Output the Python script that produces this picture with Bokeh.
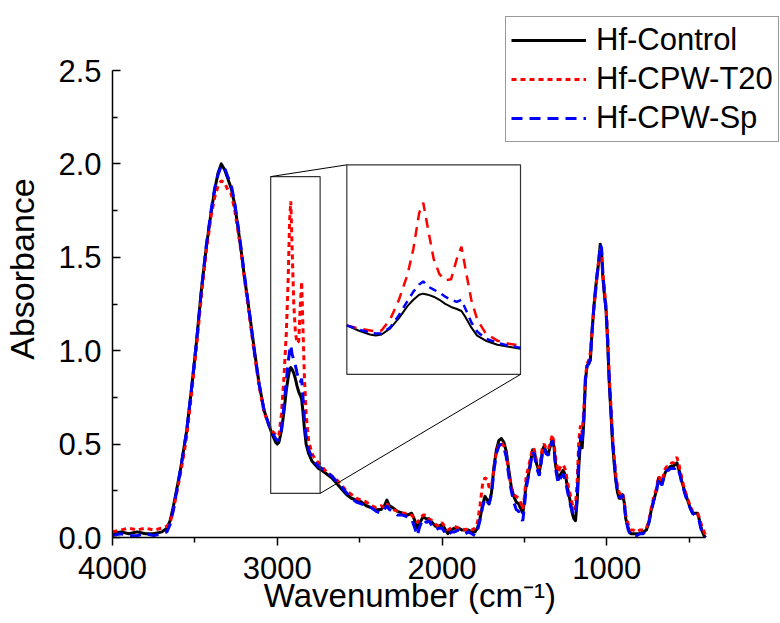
from bokeh.plotting import figure
from bokeh.models import Range1d, FixedTicker, Legend, LegendItem, NumeralTickFormatter
from bokeh.embed import file_html
from bokeh.resources import INLINE

# ---------------- data ----------------
wn = [4000, 3950, 3900, 3850, 3800, 3750, 3700, 3670, 3650, 3630, 3610, 3590, 3570, 3550,
      3520, 3490, 3460, 3430, 3400, 3380, 3360, 3340, 3320, 3300, 3280, 3260, 3240, 3220,
      3200, 3170, 3140, 3110, 3080, 3050, 3030, 3010, 3000, 2990, 2975, 2960, 2945, 2935,
      2925, 2918, 2910, 2900, 2890, 2880, 2870, 2860, 2852, 2845, 2835, 2825, 2810, 2790,
      2770, 2750, 2730, 2700, 2670, 2640, 2610, 2580, 2550, 2520, 2490, 2460, 2430, 2400,
      2370, 2350, 2335, 2320, 2300, 2270, 2240, 2210, 2185, 2165, 2150, 2135, 2115, 2095,
      2080, 2060, 2040, 2020, 2000, 1985, 1965, 1945, 1925, 1900, 1880, 1860, 1840, 1820,
      1800, 1785, 1770, 1755, 1740, 1725, 1715, 1700, 1685, 1670, 1655, 1640, 1625, 1610,
      1595, 1580, 1565, 1550, 1535, 1520, 1510, 1500, 1490, 1475, 1460, 1450, 1440, 1425,
      1410, 1400, 1390, 1380, 1370, 1355, 1340, 1330, 1320, 1310, 1295, 1280, 1265, 1250,
      1240, 1230, 1220, 1210, 1200, 1190, 1180, 1170, 1160, 1150, 1140, 1130, 1120, 1110,
      1100, 1090, 1080, 1070, 1060, 1050, 1040, 1032, 1025, 1015, 1005, 995, 985, 975,
      965, 955, 945, 935, 925, 915, 905, 895, 885, 870, 855, 840, 820, 800,
      780, 760, 745, 730, 715, 700, 685, 675, 665, 655, 645, 635, 625, 615,
      605, 595, 585, 575, 565, 555, 545, 535, 525, 510, 495, 480, 465, 450,
      440, 430, 420, 410, 400]

control = [0.02, 0.03, 0.02, 0.03, 0.02, 0.02, 0.03, 0.05, 0.09, 0.17, 0.26, 0.35, 0.46, 0.57,
           0.80, 1.05, 1.33, 1.56, 1.75, 1.86, 1.95, 2.00, 1.97, 1.92, 1.87, 1.79, 1.67, 1.54,
           1.40, 1.21, 1.01, 0.82, 0.68, 0.60, 0.55, 0.51, 0.50, 0.51, 0.57, 0.67, 0.79, 0.85,
           0.90, 0.91, 0.90, 0.88, 0.85, 0.81, 0.78, 0.76, 0.74, 0.68, 0.58, 0.50, 0.45, 0.41,
           0.39, 0.37, 0.36, 0.34, 0.32, 0.29, 0.26, 0.23, 0.21, 0.20, 0.19, 0.17, 0.16, 0.15,
           0.15, 0.17, 0.20, 0.17, 0.16, 0.14, 0.13, 0.12, 0.13, 0.09, 0.05, 0.08, 0.11, 0.10,
           0.10, 0.08, 0.06, 0.06, 0.07, 0.05, 0.02, 0.04, 0.05, 0.05, 0.04, 0.04, 0.04, 0.03,
           0.03, 0.05, 0.10, 0.17, 0.22, 0.20, 0.18, 0.24, 0.38, 0.47, 0.52, 0.53, 0.51, 0.46,
           0.36, 0.27, 0.22, 0.19, 0.18, 0.15, 0.13, 0.20, 0.28, 0.34, 0.42, 0.47, 0.46, 0.39,
           0.35, 0.40, 0.47, 0.49, 0.46, 0.45, 0.50, 0.53, 0.48, 0.38, 0.31, 0.34, 0.36, 0.33,
           0.27, 0.23, 0.18, 0.13, 0.10, 0.09, 0.20, 0.38, 0.52, 0.48, 0.62, 0.84, 0.92, 0.93,
           0.95, 1.10, 1.22, 1.32, 1.40, 1.47, 1.57, 1.53, 1.40, 1.30, 1.22, 1.04, 0.82, 0.66,
           0.50, 0.39, 0.30, 0.24, 0.21, 0.21, 0.23, 0.19, 0.10, 0.05, 0.02, 0.02, 0.02, 0.02,
           0.03, 0.04, 0.08, 0.15, 0.20, 0.25, 0.32, 0.30, 0.29, 0.32, 0.35, 0.36, 0.37, 0.38,
           0.38, 0.385, 0.39, 0.40, 0.37, 0.34, 0.30, 0.27, 0.24, 0.20, 0.16, 0.13, 0.13, 0.13,
           0.10, 0.06, 0.03, 0.01, 0.00]

t20 = [0.03, 0.04, 0.05, 0.04, 0.05, 0.04, 0.05, 0.06, 0.08, 0.15, 0.24, 0.33, 0.43, 0.54,
       0.77, 1.02, 1.30, 1.54, 1.73, 1.82, 1.88, 1.91, 1.90, 1.86, 1.84, 1.76, 1.65, 1.53,
       1.39, 1.19, 0.99, 0.81, 0.67, 0.60, 0.57, 0.55, 0.54, 0.55, 0.66, 0.85, 1.10, 1.35,
       1.70, 1.80, 1.55, 1.25, 1.10, 1.04, 1.05, 1.25, 1.37, 1.15, 0.85, 0.66, 0.52, 0.45,
       0.42, 0.40, 0.38, 0.35, 0.33, 0.31, 0.28, 0.25, 0.23, 0.21, 0.20, 0.19, 0.17, 0.16,
       0.17, 0.16, 0.18, 0.16, 0.15, 0.14, 0.13, 0.13, 0.12, 0.10, 0.08, 0.10, 0.12, 0.12,
       0.10, 0.09, 0.07, 0.06, 0.08, 0.06, 0.04, 0.05, 0.06, 0.05, 0.05, 0.04, 0.05, 0.04,
       0.05, 0.08, 0.17, 0.28, 0.32, 0.31, 0.27, 0.27, 0.37, 0.46, 0.50, 0.51, 0.49, 0.44,
       0.35, 0.27, 0.23, 0.22, 0.21, 0.18, 0.15, 0.22, 0.32, 0.38, 0.44, 0.48, 0.47, 0.40,
       0.37, 0.43, 0.49, 0.50, 0.48, 0.47, 0.52, 0.55, 0.50, 0.42, 0.35, 0.38, 0.39, 0.36,
       0.30, 0.26, 0.22, 0.18, 0.15, 0.17, 0.30, 0.52, 0.60, 0.56, 0.68, 0.86, 0.93, 0.95,
       0.99, 1.10, 1.22, 1.30, 1.40, 1.48, 1.55, 1.52, 1.42, 1.33, 1.24, 1.08, 0.86, 0.70,
       0.54, 0.43, 0.33, 0.27, 0.24, 0.23, 0.24, 0.20, 0.12, 0.07, 0.04, 0.04, 0.03, 0.04,
       0.04, 0.05, 0.09, 0.16, 0.22, 0.26, 0.33, 0.31, 0.30, 0.34, 0.37, 0.38, 0.38, 0.39,
       0.40, 0.40, 0.42, 0.43, 0.40, 0.36, 0.32, 0.28, 0.25, 0.21, 0.17, 0.14, 0.14, 0.13,
       0.11, 0.08, 0.05, 0.03, 0.01]

sp = [0.01, 0.02, 0.01, 0.01, 0.02, 0.01, 0.02, 0.03, 0.07, 0.15, 0.25, 0.35, 0.46, 0.57,
      0.80, 1.05, 1.33, 1.57, 1.76, 1.87, 1.94, 1.99, 1.98, 1.93, 1.89, 1.80, 1.68, 1.55,
      1.41, 1.21, 1.00, 0.82, 0.68, 0.60, 0.56, 0.53, 0.52, 0.52, 0.58, 0.70, 0.84, 0.93,
      1.00, 1.03, 0.98, 0.95, 0.92, 0.88, 0.85, 0.83, 0.85, 0.76, 0.63, 0.54, 0.47, 0.43,
      0.40, 0.38, 0.37, 0.35, 0.33, 0.30, 0.27, 0.24, 0.21, 0.19, 0.18, 0.17, 0.16, 0.14,
      0.13, 0.15, 0.17, 0.15, 0.14, 0.12, 0.12, 0.11, 0.10, 0.05, 0.01, 0.06, 0.10, 0.08,
      0.09, 0.06, 0.04, 0.05, 0.05, 0.03, 0.01, 0.03, 0.03, 0.04, 0.03, 0.02, 0.03, 0.02,
      0.01, 0.04, 0.09, 0.16, 0.21, 0.19, 0.18, 0.23, 0.36, 0.45, 0.49, 0.50, 0.48, 0.43,
      0.33, 0.25, 0.19, 0.15, 0.14, 0.10, 0.09, 0.17, 0.26, 0.33, 0.41, 0.46, 0.44, 0.37,
      0.33, 0.39, 0.46, 0.48, 0.45, 0.44, 0.49, 0.52, 0.47, 0.36, 0.29, 0.32, 0.34, 0.30,
      0.25, 0.21, 0.17, 0.14, 0.12, 0.12, 0.22, 0.45, 0.55, 0.50, 0.64, 0.85, 0.92, 0.93,
      0.96, 1.10, 1.22, 1.31, 1.40, 1.47, 1.57, 1.55, 1.43, 1.31, 1.22, 1.05, 0.84, 0.68,
      0.52, 0.41, 0.31, 0.25, 0.22, 0.21, 0.23, 0.19, 0.10, 0.04, 0.01, 0.01, 0.01, 0.02,
      0.02, 0.04, 0.08, 0.14, 0.20, 0.24, 0.32, 0.29, 0.28, 0.32, 0.35, 0.36, 0.36, 0.37,
      0.37, 0.37, 0.37, 0.38, 0.36, 0.33, 0.29, 0.26, 0.23, 0.19, 0.16, 0.13, 0.12, 0.11,
      0.09, 0.05, 0.02, 0.00, 0.00]

series_names = ["Hf-Control", "Hf-CPW-T20", "Hf-CPW-Sp"]

x_major = [4000, 3000, 2000, 1000]
x_minor = [3500, 2500, 1500, 500]
y_major = [0.0, 0.5, 1.0, 1.5, 2.0, 2.5]
y_minor = [0.25, 0.75, 1.25, 1.75, 2.25]

x_title = "Wavenumber (cm\u207b\u00b9)"
y_title = "Absorbance"

# ---------------- layout constants ----------------
AX_X = (4000, 400)           # extent of the drawn x axis
AX_Y = (0.0, 2.5)            # extent of the drawn y axis
FRAME_L, FRAME_R, FRAME_T, FRAME_B = 110, 780, 0, 537   # frame in page pixels
AXIS_R_PX, AXIS_T_PX = 705, 70                          # where axes end
ZOOM_X = (3040, 2740)        # magnified region (data units)
ZOOM_Y = (0.236, 1.932)
INSET_X = (2578, 1524)       # where the inset sits (main data units)
INSET_Y = (0.873, 1.995)
INSET_DX = (3050, 2750)      # inset data range
INSET_DY = (0.12, 2.17)
X_TITLE_PAD = 8              # no-break spaces that re-centre the x title under the bounded axis

FONT = "Liberation Sans"

# main ranges extended so the frame also holds the legend; axes are bounded
x_per_px = (AX_X[1] - AX_X[0]) / (AXIS_R_PX - FRAME_L)
y_per_px = (AX_Y[1] - AX_Y[0]) / (FRAME_B - AXIS_T_PX)
X_START = AX_X[0]
X_END = AX_X[0] + x_per_px * (FRAME_R - FRAME_L)
Y_START = AX_Y[0]
Y_END = AX_Y[0] + y_per_px * (FRAME_B - FRAME_T)


def extra_range(m0, m1, b0, b1, d0, d1):
    f0 = (b0 - m0) / (m1 - m0)
    f1 = (b1 - m0) / (m1 - m0)
    span = (d1 - d0) / (f1 - f0)
    s = d0 - f0 * span
    return Range1d(s, s + span)


p = figure(width=780, height=623,
           x_range=Range1d(X_START, X_END), y_range=Range1d(Y_START, Y_END),
           output_backend="svg", toolbar_location=None,
           min_border_left=FRAME_L, min_border_right=780 - FRAME_R,
           min_border_top=FRAME_T, min_border_bottom=623 - FRAME_B)
p.outline_line_color = None
p.xgrid.visible = False
p.ygrid.visible = False
p.background_fill_color = "white"
p.border_fill_color = "white"

p.extra_x_ranges = {"ix": extra_range(X_START, X_END, INSET_X[0], INSET_X[1], INSET_DX[0], INSET_DX[1])}
p.extra_y_ranges = {"iy": extra_range(Y_START, Y_END, INSET_Y[0], INSET_Y[1], INSET_DY[0], INSET_DY[1])}

# axes
p.xaxis.ticker = FixedTicker(ticks=x_major, minor_ticks=x_minor)
p.yaxis.ticker = FixedTicker(ticks=y_major, minor_ticks=y_minor)
p.xaxis.bounds = (min(AX_X), max(AX_X))
p.yaxis.bounds = (min(AX_Y), max(AX_Y))
p.yaxis.formatter = NumeralTickFormatter(format="0.0")
p.xaxis.axis_label = x_title + "\u00a0" * X_TITLE_PAD
p.yaxis.axis_label = y_title
for ax in (p.xaxis[0], p.yaxis[0]):
    ax.axis_line_width = 1.5
    ax.axis_line_color = "black"
    ax.major_tick_line_width = 1.5
    ax.minor_tick_line_width = 1.5
    ax.major_tick_line_color = "black"
    ax.minor_tick_line_color = "black"
    ax.major_label_text_font = FONT
    ax.major_label_text_font_size = "31px"
    ax.major_label_text_color = "black"
    ax.axis_label_text_font = FONT
    ax.axis_label_text_font_style = "normal"
    ax.axis_label_text_color = "black"
p.xaxis.axis_label_text_font_size = "33px"
p.yaxis.axis_label_text_font_size = "34px"
p.xaxis.major_tick_out = 8
p.xaxis.major_tick_in = 0
p.xaxis.minor_tick_out = 5
p.xaxis.minor_tick_in = 0
p.xaxis.major_label_standoff = 11
p.xaxis.axis_label_standoff = -5
p.yaxis.major_tick_in = 8
p.yaxis.major_tick_out = 0
p.yaxis.minor_tick_in = 5
p.yaxis.minor_tick_out = 0
p.yaxis.major_label_standoff = 11
p.yaxis.axis_label_standoff = 14

# main curves
r_c = p.line(wn, control, line_color="black", line_width=3, line_join="round")
r_t = p.line(wn, t20, line_color="#ff0000", line_width=3, line_dash="5 4")
r_s = p.line(wn, sp, line_color="#0000ff", line_width=3, line_dash="11 7")

# zoom box and inset frame
p.quad(left=[ZOOM_X[0]], right=[ZOOM_X[1]], bottom=[ZOOM_Y[0]], top=[ZOOM_Y[1]],
       fill_color=None, line_color="#333333", line_width=1.2)
p.quad(left=[INSET_X[0]], right=[INSET_X[1]], bottom=[INSET_Y[0]], top=[INSET_Y[1]],
       fill_color="white", line_color="#333333", line_width=1.2)
p.segment(x0=[ZOOM_X[0], ZOOM_X[1]], y0=[ZOOM_Y[1], ZOOM_Y[0]],
          x1=[INSET_X[0], INSET_X[1]], y1=[INSET_Y[1], INSET_Y[0]],
          line_color="black", line_width=1)

# inset curves
lo, hi = min(INSET_DX), max(INSET_DX)
idx = [i for i, w in enumerate(wn) if lo <= w <= hi]
iw = [wn[i] for i in idx]
p.line(iw, [control[i] for i in idx], line_color="black", line_width=2,
       x_range_name="ix", y_range_name="iy")
p.line(iw, [t20[i] for i in idx], line_color="#ff0000", line_width=2.5, line_dash="10 7",
       x_range_name="ix", y_range_name="iy")
p.line(iw, [sp[i] for i in idx], line_color="#0000ff", line_width=2.5, line_dash="8 6",
       x_range_name="ix", y_range_name="iy")

legend = Legend(items=[LegendItem(label=series_names[0], renderers=[r_c]),
                       LegendItem(label=series_names[1], renderers=[r_t]),
                       LegendItem(label=series_names[2], renderers=[r_s])],
                location=(393, 395))
legend.label_text_font = FONT
legend.label_text_font_size = "31px"
legend.label_text_color = "black"
legend.glyph_width = 75
legend.glyph_height = 34
legend.label_height = 34
legend.label_standoff = 10
legend.padding = 5
legend.spacing = 3
legend.margin = 0
legend.border_line_color = "#333333"
legend.border_line_width = 1.2
legend.background_fill_color = "white"
legend.background_fill_alpha = 1.0
p.add_layout(legend, "center")

open("out.html", "w").write(file_html(p, INLINE))
